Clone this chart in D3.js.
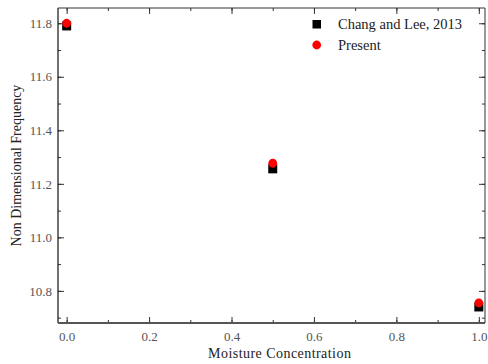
<!DOCTYPE html>
<html>
<head>
<meta charset="utf-8">
<script src="https://cdn.jsdelivr.net/npm/d3@7"></script>
<style>
  html, body { margin: 0; padding: 0; background: #fff; }
  svg { display: block; }
  svg text { font-family: "Liberation Serif", "Times New Roman", serif !important; }
</style>
</head>
<body>
<svg id="chart" width="488" height="364"></svg>
<script>
// Moisture concentration levels
const moisture = [0.0, 0.5, 1.0];
// Non-dimensional frequency, Chang and Lee (2013)
const changLee = [11.79, 11.256, 10.74];
// Non-dimensional frequency, present study
const present = [11.80, 11.277, 10.755];

const xTicks = [0.0, 0.2, 0.4, 0.6, 0.8, 1.0];
const yTicks = [10.8, 11.0, 11.2, 11.4, 11.6, 11.8];
const seriesNames = ["Chang and Lee, 2013", "Present"];

const svg = d3.select("#chart");
const margin = { left: 58, top: 8, right: 3, bottom: 41 };
const W = 488, H = 364;
const iw = W - margin.left - margin.right;
const ih = H - margin.top - margin.bottom;

const x = d3.scaleLinear().domain([-0.021, 1.015]).range([0, iw]);
const y = d3.scaleLinear().domain([10.68, 11.857]).range([ih, 0]);

const g = svg.append("g").attr("transform", `translate(${margin.left},${margin.top})`);

const xMinor = d3.range(0, 11).map(i => i / 10);
const yMinor = d3.range(0, 12).map(i => +(10.7 + i / 10).toFixed(2));

function styleAxis(sel) {
  sel.attr("font-family", "Liberation Serif").attr("font-size", 13);
  sel.select(".domain").remove();
  sel.selectAll(".tick line").attr("stroke", "#333").attr("stroke-width", 1);
  sel.selectAll(".tick text").attr("fill", "#555");
}

// minor ticks (inward)
g.append("g").attr("transform", `translate(0,${ih})`)
  .call(d3.axisBottom(x).tickValues(xMinor).tickSize(-3).tickFormat(""))
  .call(styleAxis);
g.append("g")
  .call(d3.axisTop(x).tickValues(xMinor).tickSize(-3).tickFormat(""))
  .call(styleAxis);
g.append("g")
  .call(d3.axisLeft(y).tickValues(yMinor).tickSize(-3).tickFormat(""))
  .call(styleAxis);
g.append("g").attr("transform", `translate(${iw},0)`)
  .call(d3.axisRight(y).tickValues(yMinor).tickSize(-3).tickFormat(""))
  .call(styleAxis);

// major ticks (inward) with labels
g.append("g").attr("transform", `translate(0,${ih})`)
  .call(d3.axisBottom(x).tickValues(xTicks).tickSize(-6).tickPadding(9).tickFormat(d3.format(".1f")))
  .call(styleAxis);
g.append("g")
  .call(d3.axisTop(x).tickValues(xTicks).tickSize(-6).tickFormat(""))
  .call(styleAxis);
g.append("g")
  .call(d3.axisLeft(y).tickValues(yTicks).tickSize(-6).tickPadding(6).tickFormat(d3.format(".1f")))
  .call(styleAxis);
g.append("g").attr("transform", `translate(${iw},0)`)
  .call(d3.axisRight(y).tickValues(yTicks).tickSize(-6).tickFormat(""))
  .call(styleAxis);

// frame
g.append("line").attr("x1", 0).attr("x2", 0).attr("y1", 0).attr("y2", ih)
  .attr("stroke", "#111").attr("stroke-width", 1.2);
g.append("line").attr("x1", 0).attr("x2", iw).attr("y1", ih).attr("y2", ih)
  .attr("stroke", "#555").attr("stroke-width", 2);
g.append("line").attr("x1", 0).attr("x2", iw).attr("y1", 0).attr("y2", 0)
  .attr("stroke", "#333").attr("stroke-width", 1);
g.append("line").attr("x1", iw).attr("x2", iw).attr("y1", 0).attr("y2", ih)
  .attr("stroke", "#333").attr("stroke-width", 1);

// data: Chang and Lee squares
const sq = 9;
g.selectAll(".sq").data(moisture.map((m, i) => [m, changLee[i]])).enter()
  .append("rect")
  .attr("x", d => x(d[0]) - sq / 2)
  .attr("y", d => y(d[1]) - sq / 2)
  .attr("width", sq).attr("height", sq)
  .attr("fill", "#000");

// data: present circles
g.selectAll(".ci").data(moisture.map((m, i) => [m, present[i]])).enter()
  .append("circle")
  .attr("cx", d => x(d[0]))
  .attr("cy", d => y(d[1]))
  .attr("r", 4.4)
  .attr("fill", "#ff0000");

// legend
const lg = svg.append("g");
lg.append("rect").attr("x", 312.5).attr("y", 20).attr("width", 8.5).attr("height", 8.5).attr("fill", "#000");
lg.append("text").attr("x", 338).attr("y", 29).text(seriesNames[0])
  .attr("fill", "#222").style("font-size", "14.5px");
lg.append("circle").attr("cx", 316.7).attr("cy", 45).attr("r", 4.4).attr("fill", "#ff0000");
lg.append("text").attr("x", 338).attr("y", 50).text(seriesNames[1])
  .attr("fill", "#222").style("font-size", "14.5px");

// axis titles
svg.append("text")
  .attr("x", margin.left + x(0.5) + 7).attr("y", 358)
  .attr("text-anchor", "middle")
  .attr("fill", "#222").style("font-size", "14px")
  .style("letter-spacing", "0.45px")
  .text("Moisture Concentration");
svg.append("text")
  .attr("transform", `translate(21,${margin.top + ih / 2}) rotate(-90)`)
  .attr("text-anchor", "middle")
  .attr("fill", "#222").style("font-size", "14px")
  .text("Non Dimensional Frequency");
</script>
</body>
</html>
